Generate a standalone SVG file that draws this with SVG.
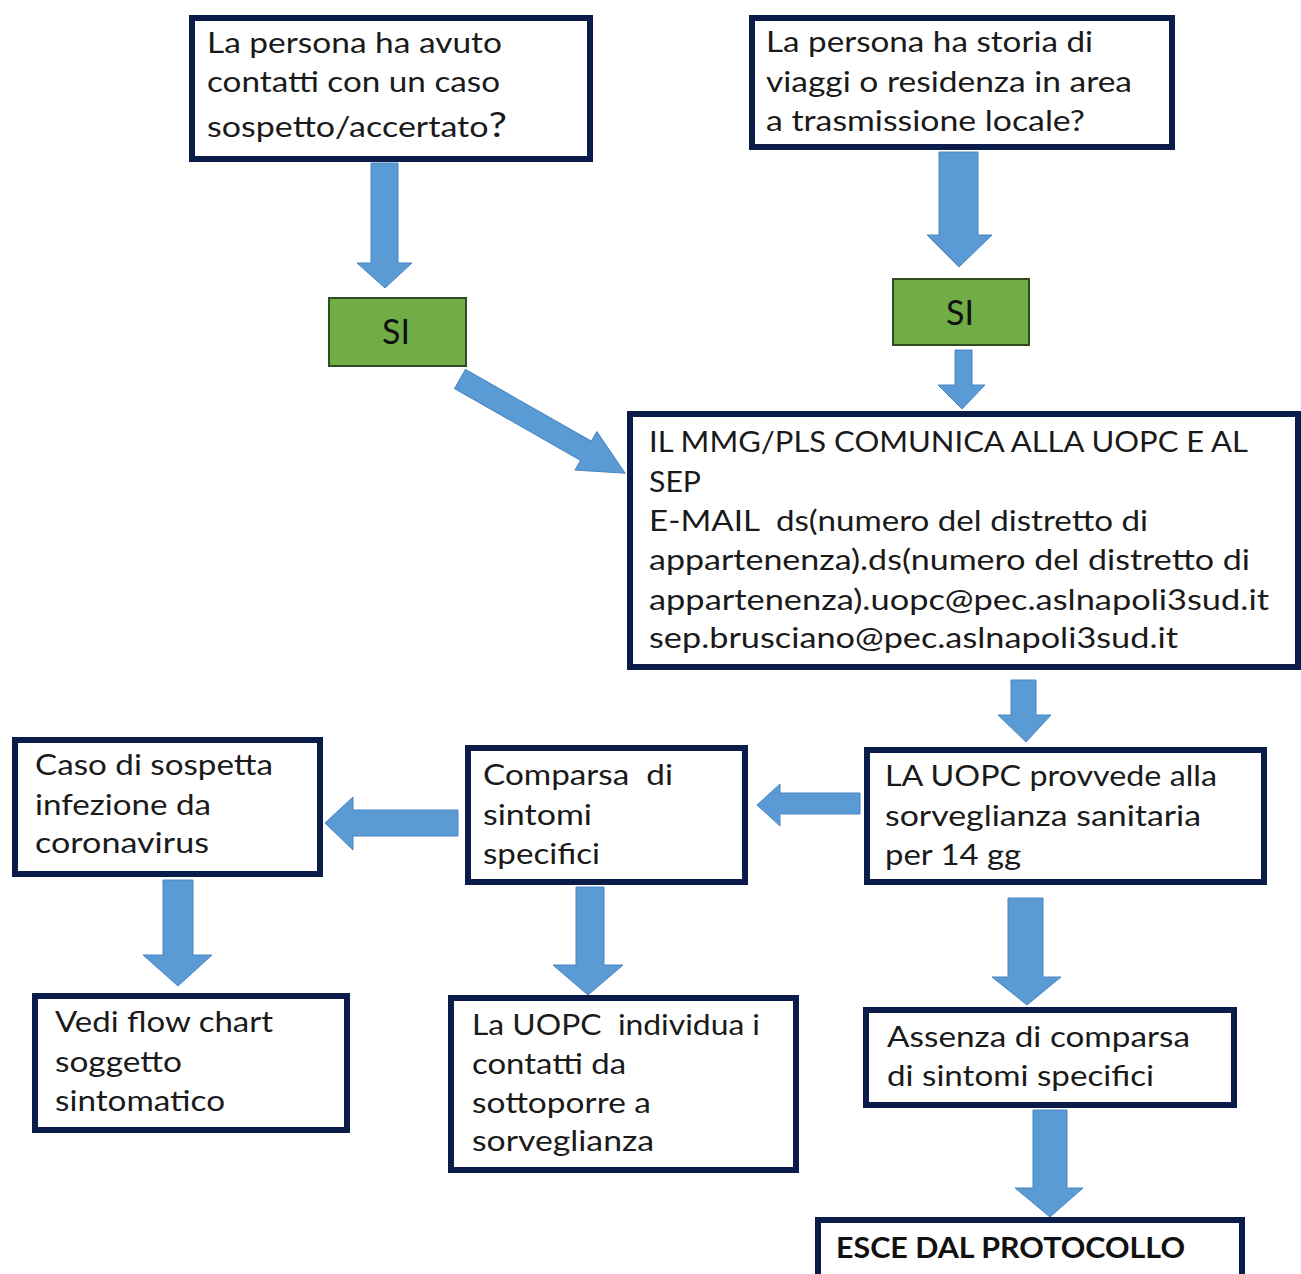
<svg xmlns="http://www.w3.org/2000/svg" width="1301" height="1274" viewBox="0 0 1301 1274">
  <style>
    .box { fill: #ffffff; stroke: #0c1c4a; stroke-width: 6; }
    .yes { fill: #70ad47; stroke: #2f4d20; stroke-width: 2; }
    .arr { fill: #5b9bd5; stroke: #4a86c2; stroke-width: 1; stroke-linejoin: miter; }
    .t { font-family: Lato, "Open Sans", "Liberation Sans", sans-serif; font-size: 28px; fill: #1a1a1a; white-space: pre; }
    .b { font-weight: bold; fill: #111111; }
    .si { font-family: Lato, "Open Sans", "Liberation Sans", sans-serif; font-size: 34px; fill: #111111; text-anchor: middle; }
  </style>

  <rect width="1301" height="1274" fill="#ffffff"/>

  <!-- connectors: block arrows -->
  <g id="connectors">
    <polygon class="arr" points="371,163 398,163 398,263 412,263 385,288 357,263 371,263"/>
    <polygon class="arr" points="939,152 978,152 978,235 992,235 959,267 927,235 939,235"/>
    <polygon class="arr" points="955,350 972,350 972,385 985,385 962,409 938,385 955,385"/>
    <polygon class="arr" transform="translate(460,379) rotate(29.7)" points="0,-11 145,-11 145,-22 190,0 145,22 145,11 0,11"/>
    <polygon class="arr" points="1011,680 1036,680 1036,715 1051,715 1026,742 998,715 1011,715"/>
    <polygon class="arr" points="860,793 860,814 780,814 780,826 757,805 780,784 780,793"/>
    <polygon class="arr" points="458,810 458,836 353,836 353,850 325,823 353,797 353,810"/>
    <polygon class="arr" points="163,880 193,880 193,955 212,955 178,986 143,955 163,955"/>
    <polygon class="arr" points="576,887 604,887 604,965 623,965 588,995 553,965 576,965"/>
    <polygon class="arr" points="1008,898 1043,898 1043,977 1061,977 1027,1005 992,977 1008,977"/>
    <polygon class="arr" points="1033,1110 1067,1110 1067,1188 1083,1188 1050,1217 1015,1188 1033,1188"/>
  </g>

  <!-- question: contact with a case -->
  <g id="q-contatti">
    <rect class="box" x="192" y="18" width="398" height="141"/>
    <text class="t" x="207" y="53" textLength="295" lengthAdjust="spacingAndGlyphs">La persona ha avuto</text>
    <text class="t" x="207" y="92" textLength="293" lengthAdjust="spacingAndGlyphs">contatti con un caso</text>
    <text class="t" x="207" y="137" textLength="300" lengthAdjust="spacingAndGlyphs">sospetto/accertato<tspan font-size="34">?</tspan></text>
  </g>

  <!-- question: travel or residence -->
  <g id="q-viaggi">
    <rect class="box" x="752" y="18" width="420" height="129"/>
    <text class="t" x="766" y="52" textLength="327" lengthAdjust="spacingAndGlyphs">La persona ha storia di</text>
    <text class="t" x="766" y="92" textLength="366" lengthAdjust="spacingAndGlyphs">viaggi o residenza in area</text>
    <text class="t" x="766" y="131" textLength="319" lengthAdjust="spacingAndGlyphs">a trasmissione locale?</text>
  </g>

  <g id="si-1">
    <rect class="yes" x="329" y="298" width="137" height="68"/>
    <text class="si" x="396" y="344">SI</text>
  </g>

  <g id="si-2">
    <rect class="yes" x="893" y="279" width="136" height="66"/>
    <text class="si" x="960" y="325">SI</text>
  </g>

  <!-- GP / paediatrician notification -->
  <g id="comunica">
    <rect class="box" x="630" y="414" width="668" height="253"/>
    <text class="t" x="649" y="452" textLength="599" lengthAdjust="spacingAndGlyphs">IL MMG/PLS COMUNICA ALLA UOPC E AL</text>
    <text class="t" x="649" y="492" textLength="52" lengthAdjust="spacingAndGlyphs">SEP</text>
    <text class="t" x="649" y="531" textLength="499" lengthAdjust="spacingAndGlyphs">E-MAIL  ds(numero del distretto di</text>
    <text class="t" x="649" y="570" textLength="601" lengthAdjust="spacingAndGlyphs">appartenenza).ds(numero del distretto di</text>
    <text class="t" x="649" y="610" textLength="620" lengthAdjust="spacingAndGlyphs">appartenenza).uopc@pec.aslnapoli3sud.it</text>
    <text class="t" x="649" y="648" textLength="529" lengthAdjust="spacingAndGlyphs">sep.brusciano@pec.aslnapoli3sud.it</text>
  </g>

  <g id="sorveglianza">
    <rect class="box" x="867" y="750" width="397" height="132"/>
    <text class="t" x="885" y="786" textLength="332" lengthAdjust="spacingAndGlyphs">LA UOPC provvede alla</text>
    <text class="t" x="885" y="826" textLength="316" lengthAdjust="spacingAndGlyphs">sorveglianza sanitaria</text>
    <text class="t" x="885" y="865" textLength="136" lengthAdjust="spacingAndGlyphs">per 14 gg</text>
  </g>

  <g id="comparsa">
    <rect class="box" x="468" y="748" width="277" height="134"/>
    <text class="t" x="483" y="785" textLength="190" lengthAdjust="spacingAndGlyphs">Comparsa  di</text>
    <text class="t" x="483" y="825" textLength="109" lengthAdjust="spacingAndGlyphs">sintomi</text>
    <text class="t" x="483" y="864" textLength="117" lengthAdjust="spacingAndGlyphs">specifici</text>
  </g>

  <g id="caso-sospetto">
    <rect class="box" x="15" y="740" width="305" height="134"/>
    <text class="t" x="35" y="775" textLength="238" lengthAdjust="spacingAndGlyphs">Caso di sospetta</text>
    <text class="t" x="35" y="815" textLength="176" lengthAdjust="spacingAndGlyphs">infezione da</text>
    <text class="t" x="35" y="853" textLength="174" lengthAdjust="spacingAndGlyphs">coronavirus</text>
  </g>

  <g id="flow-sintomatico">
    <rect class="box" x="35" y="996" width="312" height="134"/>
    <text class="t" x="55" y="1032" textLength="218" lengthAdjust="spacingAndGlyphs">Vedi flow chart</text>
    <text class="t" x="55" y="1072" textLength="127" lengthAdjust="spacingAndGlyphs">soggetto</text>
    <text class="t" x="55" y="1111" textLength="170" lengthAdjust="spacingAndGlyphs">sintomatico</text>
  </g>

  <g id="individua-contatti">
    <rect class="box" x="451" y="998" width="345" height="172"/>
    <text class="t" x="472" y="1035" textLength="288" lengthAdjust="spacingAndGlyphs">La UOPC  individua i</text>
    <text class="t" x="472" y="1074" textLength="154" lengthAdjust="spacingAndGlyphs">contatti da</text>
    <text class="t" x="472" y="1113" textLength="179" lengthAdjust="spacingAndGlyphs">sottoporre a</text>
    <text class="t" x="472" y="1151" textLength="182" lengthAdjust="spacingAndGlyphs">sorveglianza</text>
  </g>

  <g id="assenza">
    <rect class="box" x="866" y="1010" width="368" height="95"/>
    <text class="t" x="887" y="1047" textLength="303" lengthAdjust="spacingAndGlyphs">Assenza di comparsa</text>
    <text class="t" x="887" y="1086" textLength="267" lengthAdjust="spacingAndGlyphs">di sintomi specifici</text>
  </g>

  <g id="esce">
    <rect class="box" x="818" y="1220" width="424" height="70"/>
    <text class="t b" x="836" y="1258" textLength="349" lengthAdjust="spacingAndGlyphs">ESCE DAL PROTOCOLLO</text>
  </g>
</svg>
